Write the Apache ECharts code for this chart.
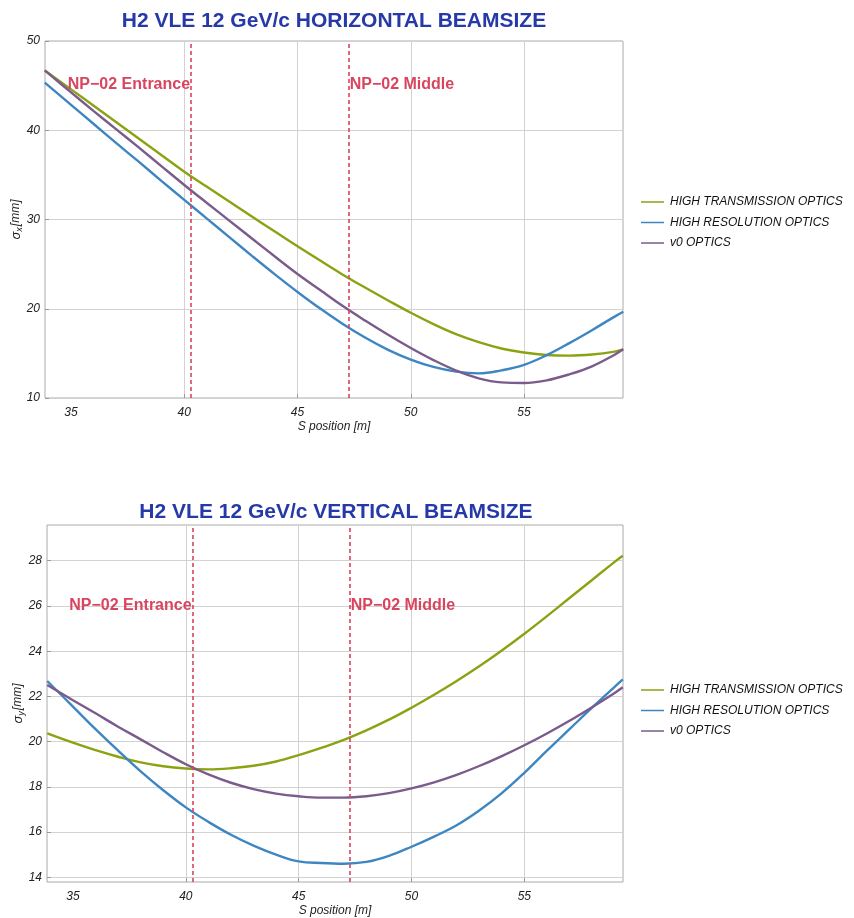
<!DOCTYPE html>
<html>
<head>
<meta charset="utf-8">
<script src="https://cdn.jsdelivr.net/npm/echarts@6/dist/echarts.min.js"></script>
<style>
html,body{margin:0;padding:0;background:#fff;}
#c{width:854px;height:918px;}
</style>
</head>
<body>
<div id="c"></div>
<script>
// ---- data ----
var seriesNames = ['HIGH TRANSMISSION OPTICS', 'HIGH RESOLUTION OPTICS', 'v0 OPTICS'];
var xTicks = [35, 40, 45, 50, 55];
var yTicksTop = [10, 20, 30, 40, 50];
var yTicksBot = [14, 16, 18, 20, 22, 24, 26, 28];

var sTop = [33.84, 35, 36, 37, 38, 39, 40, 41, 42, 43, 44, 45, 46, 47, 48, 49, 50, 51, 52, 53, 54, 55, 56, 57, 58, 59, 59.38];
var htTop = [46.7, 44.58, 42.75, 40.9, 39.05, 37.2, 35.36, 33.66, 31.98, 30.3, 28.65, 27.0, 25.4, 23.82, 22.35, 20.93, 19.55, 18.28, 17.15, 16.25, 15.55, 15.1, 14.82, 14.75, 14.88, 15.2, 15.45];
var hrTop = [45.33, 42.85, 40.7, 38.55, 36.45, 34.3, 32.2, 30.1, 28.0, 25.9, 23.85, 21.88, 20.02, 18.3, 16.75, 15.4, 14.3, 13.48, 12.96, 12.76, 13.1, 13.72, 14.8, 16.15, 17.6, 19.12, 19.67];
var v0Top = [46.7, 44.25, 42.15, 40.1, 38.05, 35.95, 33.87, 31.85, 29.85, 27.85, 25.85, 23.9, 22.1, 20.3, 18.65, 17.08, 15.6, 14.25, 13.08, 12.2, 11.75, 11.68, 11.98, 12.65, 13.55, 14.85, 15.45];

var sBot = [33.86, 35, 36, 37, 38, 39, 40, 41, 42, 43, 44, 45, 46, 47, 48, 49, 50, 51, 52, 53, 54, 55, 56, 57, 58, 59, 59.36];
var htBot = [20.36, 19.95, 19.62, 19.33, 19.08, 18.91, 18.81, 18.77, 18.82, 18.93, 19.12, 19.4, 19.72, 20.08, 20.5, 20.97, 21.5, 22.07, 22.68, 23.33, 24.03, 24.77, 25.55, 26.35, 27.15, 27.95, 28.22];
var hrBot = [22.68, 21.55, 20.55, 19.6, 18.68, 17.85, 17.09, 16.45, 15.88, 15.4, 15.0, 14.7, 14.63, 14.6, 14.68, 14.95, 15.35, 15.8, 16.3, 16.95, 17.72, 18.62, 19.6, 20.55, 21.5, 22.42, 22.75];
var v0Bot = [22.5, 21.83, 21.25, 20.66, 20.1, 19.53, 19.0, 18.55, 18.18, 17.9, 17.7, 17.58, 17.52, 17.52, 17.58, 17.72, 17.93, 18.2, 18.53, 18.92, 19.36, 19.84, 20.36, 20.92, 21.52, 22.15, 22.4];

var markers = [
  {name: 'NP\u221202 Entrance', s: 40.3, side: 'left'},
  {name: 'NP\u221202 Middle', s: 47.26, side: 'right'}
];
var markerYTop = 45.07;
var markerYBot = 26.0;

// ---- style ----
var FONT = '"Liberation Sans", Arial, sans-serif';
var colors = ['#8aa312', '#3e86c2', '#7a5b8c'];
var red = '#d9445f';

function zip(xs, ys) { return xs.map(function (x, i) { return [x, ys[i]]; }); }

function xAxisDef(gi) {
  return {
    type: 'value', gridIndex: gi, min: 33.85, max: 59.37,
    name: 'S position [m]', nameLocation: 'middle', nameGap: 23, nameMoveOverlap: false,
    nameTextStyle: {fontFamily: FONT, fontStyle: 'italic', fontSize: 12, color: '#222'},
    axisLine: {show: false},
    axisTick: {show: true, inside: true, length: 4, lineStyle: {color: '#999'}, customValues: [40, 45, 50, 55]},
    axisLabel: {customValues: xTicks, fontFamily: FONT, fontStyle: 'italic', fontSize: 12, color: '#222', margin: 9},
    splitLine: {show: true, lineStyle: {color: '#d2d2d2', width: 1}}
  };
}

function yAxisDef(gi, min, max, ticks, sub) {
  return {
    type: 'value', gridIndex: gi, min: min, max: max,
    name: '{a|\u03c3}{s|' + sub + '}{b|[mm]}', nameLocation: 'middle', nameGap: 21, nameRotate: 90, nameMoveOverlap: false,
    nameTextStyle: {
      color: '#222',
      rich: {
        a: {fontFamily: FONT, fontStyle: 'italic', fontSize: 13, color: '#222', lineHeight: 16},
        s: {fontFamily: FONT, fontStyle: 'italic', fontSize: 9, color: '#222', lineHeight: 16, verticalAlign: 'bottom', padding: [4, 1, 0, 0]},
        b: {fontFamily: FONT, fontStyle: 'italic', fontSize: 12, color: '#222', lineHeight: 16}
      }
    },
    axisLine: {show: false},
    axisTick: {show: true, inside: true, length: 4, lineStyle: {color: '#999'}, customValues: ticks},
    axisLabel: {customValues: ticks, fontFamily: FONT, fontStyle: 'italic', fontSize: 12, color: '#222', margin: 5},
    splitLine: {show: true, lineStyle: {color: '#d2d2d2', width: 1}}
  };
}

function markSeries(gi, yVal) {
  return {
    type: 'line', xAxisIndex: gi, yAxisIndex: gi, data: [], silent: true,
    markLine: {
      symbol: 'none', silent: true, animation: false,
      label: {show: false},
      lineStyle: {color: red, type: [4, 3], width: 1.6},
      data: markers.map(function (m) { return {xAxis: m.s}; })
    },
    markPoint: {
      symbol: 'circle', symbolSize: 0, silent: true, animation: false,
      data: markers.map(function (m) {
        return {
          coord: [m.s, yVal],
          label: {show: true, formatter: m.name, position: m.side, distance: 1,
            fontFamily: FONT, fontWeight: 'bold', fontSize: 16, color: red}
        };
      })
    }
  };
}

function dataSeries(gi, xs, arrs) {
  return arrs.map(function (ys, i) {
    return {
      name: seriesNames[i], type: 'line', xAxisIndex: gi, yAxisIndex: gi,
      data: zip(xs, ys), symbol: 'none', smooth: 0.4,
      lineStyle: {color: colors[i], width: 2.4}, itemStyle: {color: colors[i]},
      z: 3
    };
  });
}

var legendBase = {
  orient: 'vertical', left: 636, itemWidth: 23, itemHeight: 14, itemGap: 8.5,
  icon: 'path://M0,0 L23,0 L23,1.5 L0,1.5 Z',
  textStyle: {fontFamily: FONT, fontStyle: 'italic', fontSize: 12, color: '#111', padding: [0, 0, 0, 1]},
  data: seriesNames, selectedMode: false
};

var option = {
  animation: false,
  color: colors,
  graphic: [
    {type: 'text', x: 334, y: 21, style: {text: 'H2 VLE 12 GeV/c HORIZONTAL BEAMSIZE', textAlign: 'center', textVerticalAlign: 'middle',
      font: 'bold 21px ' + FONT, fill: '#2639a8'}},
    {type: 'text', x: 336, y: 512, style: {text: 'H2 VLE 12 GeV/c VERTICAL BEAMSIZE', textAlign: 'center', textVerticalAlign: 'middle',
      font: 'bold 21px ' + FONT, fill: '#2639a8'}}
  ],
  grid: [
    {left: 45, top: 41, right: 231, bottom: 520, outerBoundsMode: 'none', containLabel: false, show: true, borderColor: '#aaaaaa', borderWidth: 1, backgroundColor: 'transparent'},
    {left: 47, top: 525, right: 231, bottom: 36, outerBoundsMode: 'none', containLabel: false, show: true, borderColor: '#aaaaaa', borderWidth: 1, backgroundColor: 'transparent'}
  ],
  legend: [
    Object.assign({}, legendBase, {top: 191}),
    Object.assign({}, legendBase, {top: 679})
  ],
  xAxis: [xAxisDef(0), xAxisDef(1)],
  yAxis: [
    yAxisDef(0, 10, 50, yTicksTop, 'x'),
    yAxisDef(1, 13.79, 29.58, yTicksBot, 'y')
  ],
  series: []
    .concat(dataSeries(0, sTop, [htTop, hrTop, v0Top]))
    .concat([markSeries(0, markerYTop)])
    .concat(dataSeries(1, sBot, [htBot, hrBot, v0Bot]))
    .concat([markSeries(1, markerYBot)])
};

var chart = echarts.init(document.getElementById('c'), null, {renderer: 'canvas'});
chart.setOption(option);
</script>
</body>
</html>
